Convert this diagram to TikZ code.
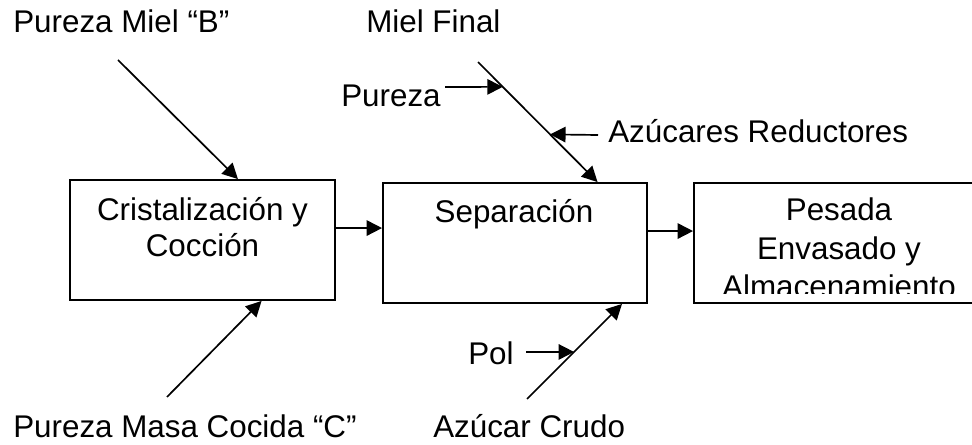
\documentclass[tikz,border=0pt]{standalone}
\usepackage{fontspec}
\setmainfont{Liberation Sans}
\usetikzlibrary{arrows.meta}

\tikzset{
  caja/.style={draw, line width=1.3pt, rectangle, inner sep=0pt, minimum height=3cm},
  flecha/.style={-{Triangle[length=11pt, width=11pt]}, line width=1.2pt},
  rotulo/.style={inner sep=0pt, font=\fontsize{22.3}{26.3}\selectfont},
}

\begin{document}
\begin{tikzpicture}[x=0.025cm, y=-0.025cm]
\useasboundingbox (0,0) rectangle (972,445);
\clip (0,0) rectangle (972,445);

% cajas del proceso
\node[caja, minimum width=6.625cm] (crist) at (202.5,240) {};
\node[caja, minimum width=6.6cm] (sep) at (515,243) {};
\node[caja, minimum width=7.25cm] (pesada) at (839,243) {};

% base = linea inferior del texto
\node[rotulo, align=center, anchor=base] (cristtxt) at (202.5,257) {Cristalizaci\'on y\\Cocci\'on};
\node[rotulo, anchor=base] (septxt) at (514,223) {Separaci\'on};
\begin{scope}
\clip (694,184) rectangle (984,293);
\node[rotulo, font=\fontsize{22.3}{27.7}\selectfont, align=center, anchor=base] (pesadatxt) at (839,298) {Pesada\\Envasado y\\Almacenamiento};
\end{scope}

% entradas y variables
\node[rotulo, anchor=base west] (mielB) at (13,33) {Pureza Miel “B”};
\node[rotulo, anchor=base west] (mielF) at (366,33) {Miel Final};
\node[rotulo, anchor=base west] (pureza) at (341,107) {Pureza};
\node[rotulo, anchor=base west] (azred) at (608,143) {Azúcares Reductores};
\node[rotulo, anchor=base west] (pol) at (468,364) {Pol};
\node[rotulo, anchor=base west] (masaC) at (13,437) {Pureza Masa Cocida “C”};
\node[rotulo, anchor=base west] (crudo) at (433,437) {Azúcar Crudo};

\coordinate (mielBin) at (118,60);
\coordinate (masaCin) at (167,397);
\coordinate (mielFin) at (478,62);
\coordinate (crudoin) at (527,399);
\coordinate (purezain) at (445,87);
\coordinate (azredin) at (598,135);
\coordinate (polin) at (526,352);

\draw[flecha] (mielBin) -- ([xshift=25.2pt]crist.north);
\draw[flecha] (masaCin) -- ([xshift=42pt]crist.south);
\draw[flecha] (mielFin) -- ([xshift=58.7pt]sep.north)
  coordinate[pos=0.207] (pPur) coordinate[pos=0.603] (pAzr);
\draw[flecha] (crudoin) -- ([xshift=76.1pt]sep.south)
  coordinate[pos=0.495] (pPol);
\draw[flecha] (purezain) -- (pPur);
\draw[flecha] (azredin) -- (pAzr);
\draw[flecha] (polin) -- (pPol);

% flujo principal
\draw[flecha] ([yshift=8.5pt]crist.east) -- ([yshift=8.5pt]crist.east -| sep.west);
\draw[flecha] ([yshift=8.5pt]sep.east) -- ([yshift=8.5pt]sep.east -| pesada.west);
\end{tikzpicture}
\end{document}
